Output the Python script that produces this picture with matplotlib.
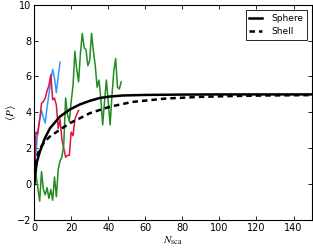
import matplotlib
matplotlib.use('Agg')
import matplotlib.pyplot as plt

# curvas teoricas
n_sphere = [0, 1.4, 3.2, 5.9, 8.6, 13.9, 19.3, 24.7, 30, 35.4, 40.8, 48, 60, 80, 100, 150]
p_sphere = [0, 1.2, 1.84, 2.58, 3.12, 3.76, 4.16, 4.44, 4.64, 4.8, 4.88, 4.94, 4.97, 4.99, 5.0, 5.0]

n_shell = [0, 1.4, 3.2, 5.9, 8.6, 13.9, 19.3, 24.7, 30, 35.4, 40.8, 53, 71, 89, 107, 125, 150]
p_shell = [0, 1.5, 2.0, 2.39, 2.66, 3.03, 3.4, 3.67, 3.95, 4.13, 4.31, 4.58, 4.77, 4.86, 4.91, 4.94, 4.96]

# simulaciones
blue = [0.0, 1.8, 3.0, 3.6, 4.1, 3.7, 3.4, 4.3, 5.0, 5.8, 6.4, 5.9, 5.1, 6.0, 6.8]
red = [0.0, 2.9, 2.8, 3.6, 4.5, 4.6, 4.8, 5.2, 5.5, 6.1, 4.7, 4.8, 4.4, 3.1, 3.6,
       2.5, 2.0, 1.5, 1.6, 1.6, 2.9, 2.7, 3.6, 3.9, 4.1]
green = [0.0, 0.5, -0.2, -0.95, 0.7, -0.3, -0.6, -0.2, -0.8, -0.3, -0.9, 0.4, -0.7,
         0.8, 1.3, 1.5, 2.2, 4.8, 3.9, 3.5, 4.6, 5.5, 7.4, 6.4, 5.7, 7.3, 8.4, 7.6,
         7.5, 6.6, 6.9, 8.4, 7.4, 6.6, 5.4, 5.8, 4.8, 3.3, 4.6, 5.8, 4.6, 3.3, 4.9,
         6.3, 7.0, 5.4, 5.3, 5.7]

plt.rcParams['mathtext.fontset'] = 'stix'
fig = plt.figure(figsize=(3.13, 2.48), dpi=100)
ax = fig.add_axes([0.109, 0.113, 0.888, 0.868])

ax.plot(range(len(blue)), blue, color='#3399ff', lw=1.1)
ax.plot(range(len(red)), red, color='#dc143c', lw=1.1)
ax.plot(range(len(green)), green, color='#228b22', lw=1.1)
ax.plot(n_sphere, p_sphere, color='k', lw=1.8, label='Sphere')
ax.plot(n_shell, p_shell, color='k', lw=1.8, ls=(0, (2.2, 1.6)), label='Shell')

ax.set_xlim(0, 150)
ax.set_ylim(-2, 10)
ax.set_xticks(range(0, 141, 20))
ax.set_yticks(range(-2, 11, 2))
ax.tick_params(direction='in', top=True, right=True, labelsize=7, length=3, width=0.6, pad=2)
for s in ax.spines.values():
    s.set_linewidth(0.8)
ax.set_xlabel(r'$N_{\rm sca}$', fontsize=8, labelpad=1)
ax.set_ylabel(r'$\langle P\rangle$', fontsize=8)
ax.yaxis.set_label_coords(-0.058, 0.5)

leg = ax.legend(loc='upper right', fontsize=6.5, fancybox=False, framealpha=1,
                edgecolor='k', handlelength=1.4, handletextpad=1.0, borderaxespad=0.6)
leg.get_frame().set_linewidth(0.6)

fig.savefig('out.png', dpi=100)
